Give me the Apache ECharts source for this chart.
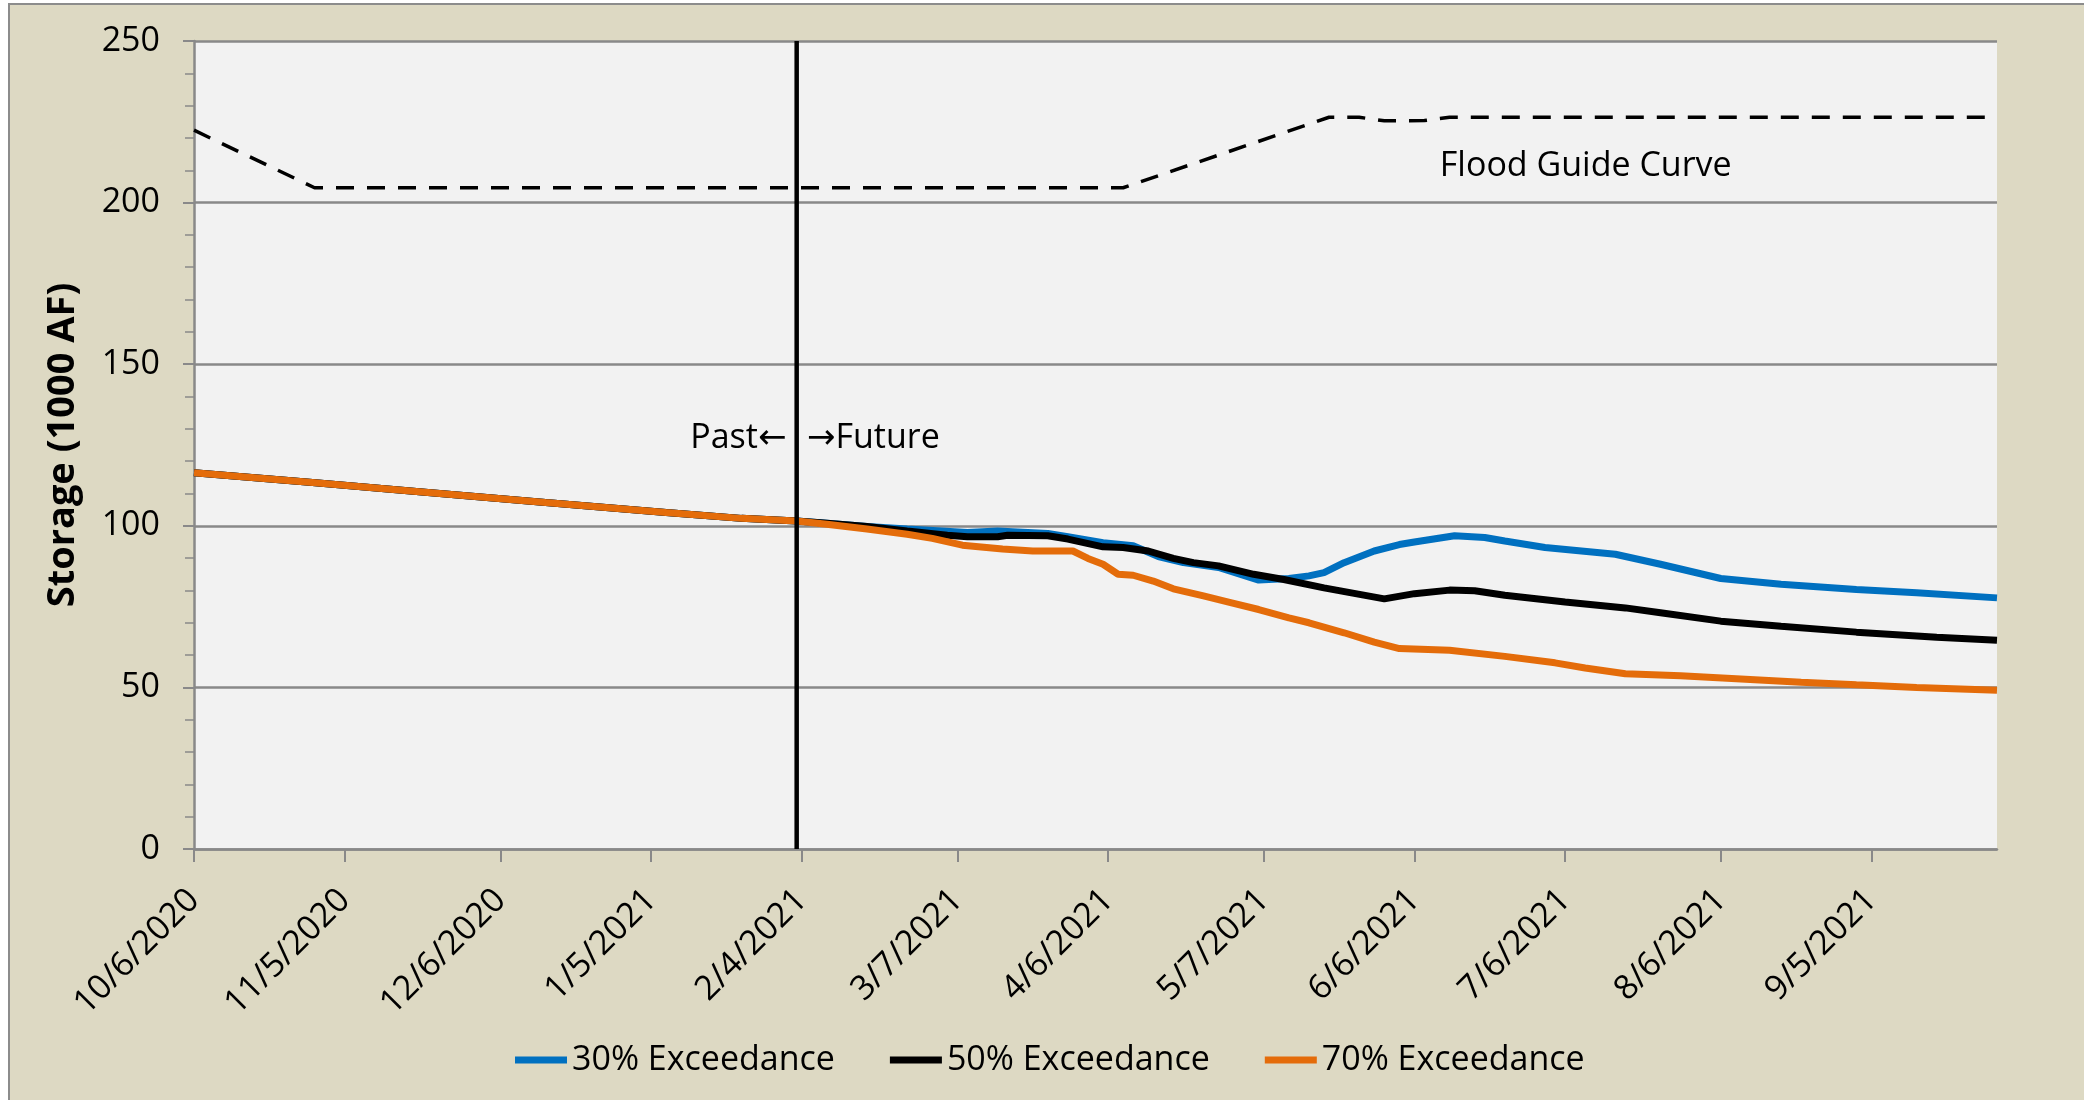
<!DOCTYPE html>
<html>
<head>
<meta charset="utf-8">
<title>Storage</title>
<script src="https://cdn.jsdelivr.net/npm/echarts@6.0.0/dist/echarts.min.js"></script>
<style>
html, body { margin: 0; padding: 0; background: #fff; overflow: hidden; }
#frame { position: absolute; left: 8px; top: 3px; width: 2120px; height: 1130px; background: #DDD9C3; border: 2px solid #8c8c8c; }
#main { position: absolute; left: 0; top: 0; width: 2084px; height: 1100px; }
</style>
</head>
<body>
<div id="frame"></div>
<div id="main"></div>
<script>
// x axis: one category per day
var startDay = Date.UTC(2020, 9, 6);
var dayCount = 360;
var tickDates = ['10/6/2020', '11/5/2020', '12/6/2020', '1/5/2021', '2/4/2021', '3/7/2021',
                 '4/6/2021', '5/7/2021', '6/6/2021', '7/6/2021', '8/6/2021', '9/5/2021'];
var nowDate = '2/3/2021';

// observed storage (same for all three traces)
var pastDates   = ['10/6/2020', '10/29/2020', '11/21/2020', '12/15/2020', '1/8/2021', '1/23/2021', '2/3/2021'];
var pastStorage = [116.4, 113.5, 110.4, 107.2, 104.1, 102.3, 101.5];

// 30% exceedance
var p30Dates = ['2/9/2021', '2/17/2021', '2/25/2021', '3/9/2021', '3/15/2021', '3/25/2021', '3/29/2021', '4/5/2021',
                '4/11/2021', '4/16/2021', '4/21/2021', '4/28/2021', '5/6/2021', '5/12/2021', '5/16/2021', '5/19/2021',
                '5/23/2021', '5/29/2021', '6/3/2021', '6/6/2021', '6/14/2021', '6/20/2021', '6/24/2021', '7/2/2021',
                '7/16/2021', '7/25/2021', '8/6/2021', '8/18/2021', '9/2/2021', '9/14/2021', '9/30/2021'];
var p30Values = [100.8, 99.8, 99.0, 97.9, 98.4, 97.6, 96.6, 94.8,
                 93.8, 90.5, 88.6, 87.1, 83.2, 83.7, 84.5, 85.5,
                 88.6, 92.2, 94.2, 95.0, 96.9, 96.4, 95.3, 93.3,
                 91.2, 88.1, 83.7, 81.9, 80.3, 79.3, 77.7];

// 50% exceedance
var p50Dates = ['2/9/2021', '2/17/2021', '2/25/2021', '3/5/2021', '3/9/2021', '3/15/2021', '3/17/2021', '3/25/2021',
                '3/29/2021', '4/5/2021', '4/9/2021', '4/14/2021', '4/19/2021', '4/23/2021', '4/28/2021', '5/5/2021',
                '5/11/2021', '5/19/2021', '5/25/2021', '5/31/2021', '6/6/2021', '6/13/2021', '6/18/2021', '6/24/2021',
                '7/6/2021', '7/18/2021', '7/25/2021', '8/6/2021', '8/18/2021', '9/2/2021', '9/18/2021', '9/30/2021'];
var p50Values = [100.8, 99.8, 98.4, 97.1, 96.6, 96.6, 97.1, 96.9,
                 95.9, 93.5, 93.3, 92.2, 89.9, 88.6, 87.6, 85.0,
                 83.4, 80.8, 79.1, 77.4, 79.0, 80.1, 79.9, 78.5,
                 76.4, 74.6, 73.1, 70.5, 68.9, 67.1, 65.5, 64.6];

// 70% exceedance
var p70Dates = ['2/9/2021', '2/17/2021', '2/25/2021', '3/2/2021', '3/8/2021', '3/16/2021', '3/22/2021', '3/30/2021',
                '4/2/2021', '4/5/2021', '4/8/2021', '4/11/2021', '4/15/2021', '4/19/2021', '4/25/2021', '4/30/2021',
                '5/6/2021', '5/12/2021', '5/16/2021', '5/23/2021', '5/29/2021', '6/3/2021', '6/13/2021', '6/24/2021',
                '7/4/2021', '7/10/2021', '7/18/2021', '7/29/2021', '8/10/2021', '8/22/2021', '9/2/2021', '9/14/2021', '9/30/2021'];
var p70Values = [100.5, 99.0, 97.4, 96.1, 94.0, 92.8, 92.2, 92.2,
                 89.9, 88.1, 85.0, 84.7, 82.9, 80.5, 78.3, 76.4,
                 74.1, 71.5, 70.0, 66.9, 64.0, 62.0, 61.5, 59.6,
                 57.6, 56.0, 54.2, 53.6, 52.6, 51.6, 50.8, 50.0, 49.1];

// flood guide curve
var floodDates  = ['10/6/2020', '10/30/2020', '4/9/2021', '5/20/2021', '5/26/2021', '5/31/2021', '6/8/2021', '6/13/2021', '9/30/2021'];
var floodValues = [222.4, 204.6, 204.6, 226.4, 226.4, 225.3, 225.4, 226.4, 226.4];

var FONT = "'Open Sans', 'DejaVu Sans', sans-serif";
var GRID_GRAY = '#898989';

function fmtDate(ms) {
	var d = new Date(ms);
	return (d.getUTCMonth() + 1) + '/' + d.getUTCDate() + '/' + d.getUTCFullYear();
}

function buildDays() {
	var res = [];
	for (var i = 0; i < dayCount; i++) {
		res.push(fmtDate(startDay + i * 86400000));
	}
	return res;
}

function pairs(dates, values) {
	var res = [];
	for (var i = 0; i < dates.length; i++) {
		res.push([dates[i], values[i]]);
	}
	return res;
}

function traceData(dates, values) {
	return pairs(pastDates, pastStorage).concat(pairs(dates, values));
}

function isTick(index, value) {
	return tickDates.indexOf(value) >= 0;
}

function traceSeries(name, color, dates, values) {
	return {
		name: name,
		type: 'line',
		symbol: 'none',
		data: traceData(dates, values),
		lineStyle: { color: color, width: 7 },
		itemStyle: { color: color },
		z: 3
	};
}

function textPoint(coord, text, position, distance) {
	return {
		coord: coord,
		symbolSize: 1,
		itemStyle: { color: 'rgba(0,0,0,0)' },
		label: {
			show: true,
			position: position,
			distance: distance,
			formatter: text,
			fontFamily: FONT,
			fontSize: 34,
			color: '#000'
		}
	};
}

var chart = echarts.init(document.getElementById('main'));

var option = {
	animation: false,
	backgroundColor: 'transparent',
	textStyle: { fontFamily: FONT },
	grid: {
		left: 194, right: 87, top: 41, bottom: 251,
		show: true, backgroundColor: '#F2F2F2', borderWidth: 0
	},
	legend: {
		data: ['30% Exceedance', '50% Exceedance', '70% Exceedance'],
		left: 510,
		top: 1038,
		icon: 'rect',
		itemWidth: 52,
		itemHeight: 7,
		itemGap: 55,
		textStyle: { fontFamily: FONT, fontSize: 34, color: '#000' }
	},
	xAxis: {
		type: 'category',
		data: buildDays(),
		boundaryGap: false,
		axisLine: { lineStyle: { color: GRID_GRAY, width: 2.5 } },
		axisTick: { show: true, interval: isTick, length: 13, lineStyle: { color: GRID_GRAY, width: 2 } },
		axisLabel: {
			interval: isTick, rotate: 45, margin: 46,
			fontFamily: FONT, fontSize: 34, color: '#000'
		},
		splitLine: { show: false }
	},
	yAxis: {
		type: 'value',
		min: 0,
		max: 250,
		interval: 50,
		name: 'Storage (1000 AF)',
		nameLocation: 'middle',
		nameGap: 112,
		nameTextStyle: { fontFamily: FONT, fontSize: 38, fontWeight: 'bold', color: '#000' },
		axisLine: { show: true, lineStyle: { color: GRID_GRAY, width: 2.5 } },
		axisTick: { show: true, length: 11, lineStyle: { color: GRID_GRAY, width: 2 } },
		minorTick: { show: true, splitNumber: 5, length: 9, lineStyle: { color: GRID_GRAY, width: 1.5 } },
		axisLabel: { margin: 34, fontFamily: FONT, fontSize: 34, color: '#000' },
		splitLine: { lineStyle: { color: GRID_GRAY, width: 2.5 } }
	},
	series: [
		traceSeries('30% Exceedance', '#0070C0', p30Dates, p30Values),
		traceSeries('50% Exceedance', '#000000', p50Dates, p50Values),
		traceSeries('70% Exceedance', '#E46C0A', p70Dates, p70Values),
		{
			name: 'Flood Guide Curve',
			type: 'line',
			symbol: 'none',
			data: pairs(floodDates, floodValues),
			lineStyle: { color: '#000', width: 3.5, type: [18, 13] },
			z: 2,
			markPoint: {
				animation: false,
				data: [textPoint(['6/11/2021', 211], 'Flood Guide Curve', 'right', 0)]
			}
		},
		{
			name: 'Now',
			type: 'line',
			symbol: 'none',
			data: [[nowDate, 0], [nowDate, 250]],
			lineStyle: { color: '#000', width: 4.5 },
			z: 4,
			markPoint: {
				animation: false,
				data: [
					textPoint([nowDate, 127], 'Past\u2190', 'left', 10),
					textPoint([nowDate, 127], '\u2192Future', 'right', 10)
				]
			}
		}
	]
};

chart.setOption(option);
</script>
</body>
</html>
